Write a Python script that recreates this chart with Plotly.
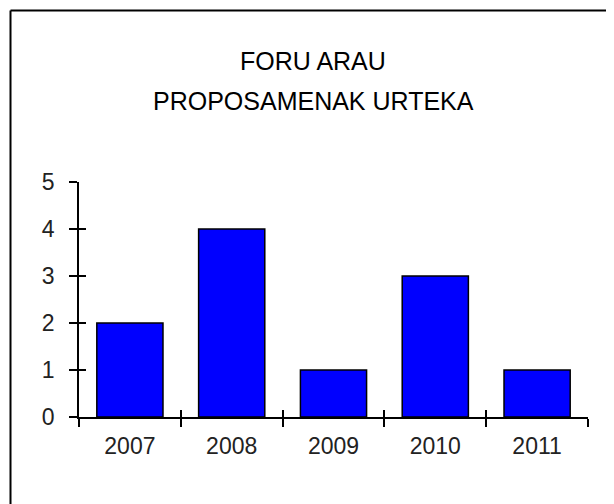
import plotly.graph_objects as go

years = ["2007", "2008", "2009", "2010", "2011"]
counts = [2, 4, 1, 3, 1]
title_lines = ["FORU ARAU", "PROPOSAMENAK URTEKA"]

W, H = 614, 504
OFF = 8  # page body margin shifts the figure by 8px
L, R, T, B = 79 - OFF, 34, 182 - OFF, 95
plot_w = W - L - R
plot_h = H - T - B


def px_x(p):
    # screen pixel -> paper coordinate
    return (p - OFF - L) / plot_w


def px_y(p):
    return (H - B - (p - OFF)) / plot_h


font = "Liberation Sans, Arial, sans-serif"

fig = go.Figure()
fig.add_trace(
    go.Bar(
        x=years,
        y=counts,
        marker={"color": "#0000FF", "line": {"color": "black", "width": 1.5}},
        hoverinfo="x+y",
    )
)
# invisible trace on the overlay axes so the inside half of each tick gets drawn
fig.add_trace(
    go.Scatter(x=years, y=counts, xaxis="x2", yaxis="y2", mode="markers",
               marker={"opacity": 0}, hoverinfo="skip", showlegend=False)
)

axis_common = dict(showgrid=False, zeroline=False, linecolor="black", linewidth=1.5,
                   tickcolor="black", tickwidth=1.5, ticklen=8)

fig.update_layout(
    width=W,
    height=H,
    margin={"l": L, "r": R, "t": T, "b": B, "pad": 0},
    paper_bgcolor="white",
    plot_bgcolor="white",
    showlegend=False,
    bargap=0.35,
    font={"family": font, "color": "#222", "size": 23},
    xaxis=dict(axis_common, type="category", range=[-0.5, 4.5], ticks="outside",
               tickson="boundaries", showline=True, ticklabelstandoff=8),
    yaxis=dict(axis_common, range=[0, 5], dtick=1, ticks="outside", showline=True,
               ticklabelstandoff=10),
    xaxis2=dict(axis_common, type="category", range=[-0.5, 4.5], ticks="inside",
                tickson="boundaries", showline=False, showticklabels=False,
                overlaying="x", anchor="y2", side="bottom", ticklen=7),
    yaxis2=dict(axis_common, range=[0, 5], dtick=1, ticks="inside", showline=False,
                showticklabels=False, overlaying="y", anchor="x2", side="left", ticklen=7),
    annotations=[
        dict(text=title_lines[0], x=px_x(313), y=px_y(61), xref="paper", yref="paper",
             showarrow=False, font={"size": 25, "color": "black"}, xanchor="center", yanchor="middle"),
        dict(text=title_lines[1], x=px_x(313), y=px_y(101), xref="paper", yref="paper",
             showarrow=False, font={"size": 25, "color": "black"}, xanchor="center", yanchor="middle"),
    ],
    shapes=[
        dict(type="line", xref="paper", yref="paper", x0=px_x(10.5), x1=px_x(W + 20),
             y0=px_y(10.5), y1=px_y(10.5), line={"color": "black", "width": 2}),
        dict(type="line", xref="paper", yref="paper", x0=px_x(10.5), x1=px_x(10.5),
             y0=px_y(10.5), y1=px_y(H + 20), line={"color": "black", "width": 2}),
    ],
)

fig.write_html("out.html")
